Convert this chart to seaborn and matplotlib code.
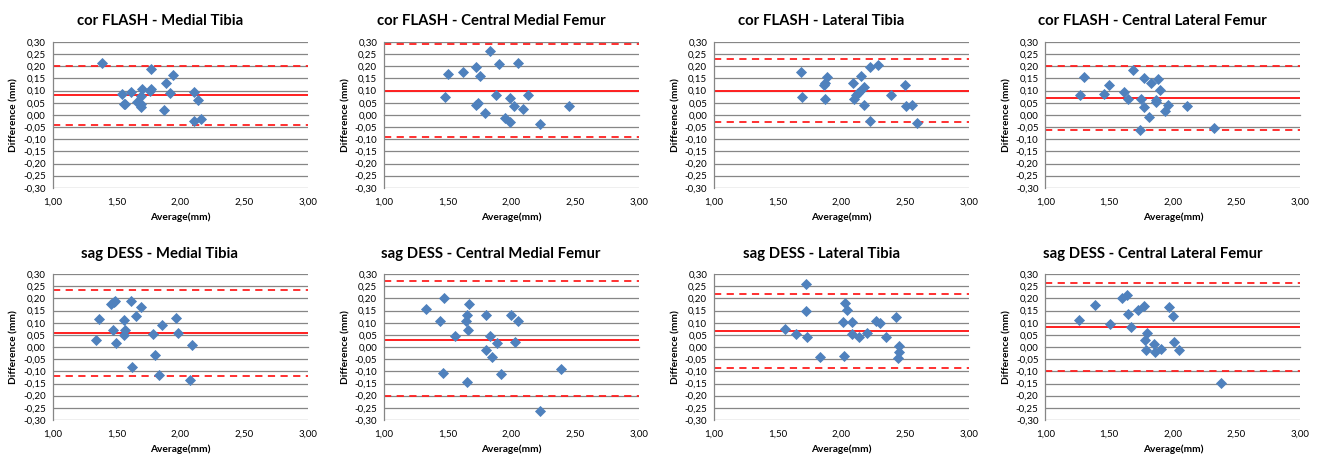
import numpy as np
import pandas as pd
import seaborn as sns
import matplotlib.pyplot as plt
from matplotlib.ticker import FuncFormatter, MultipleLocator

sns.set_style("white")
plt.rcParams['font.family'] = ['Lato', 'DejaVu Sans']
plt.rcParams['text.color'] = 'black'
plt.rcParams['axes.labelcolor'] = 'black'
plt.rcParams['xtick.labelcolor'] = 'black'
plt.rcParams['ytick.labelcolor'] = 'black'

# cor FLASH - Medial Tibia
flash_mt_avg = [1.39, 1.77, 1.94, 1.89, 1.54, 1.61, 1.70, 1.76, 1.77, 1.92, 2.11,
                2.14, 1.69, 1.66, 1.69, 1.56, 1.57, 1.69, 1.87, 2.11, 2.16]
flash_mt_diff = [0.215, 0.190, 0.165, 0.133, 0.085, 0.093, 0.105, 0.098, 0.105, 0.092, 0.093,
                 0.062, 0.078, 0.053, 0.045, 0.043, 0.043, 0.032, 0.021, -0.027, -0.018]
flash_mt_lines = [0.082, 0.200, -0.042]  # mean, upper, lower

# cor FLASH - Central Medial Femur
flash_cmf_avg = [1.48, 1.50, 1.62, 1.72, 1.75, 1.83, 1.90, 2.05, 1.72, 1.74,
                 1.79, 1.88, 1.99, 2.02, 1.95, 1.99, 2.09, 2.13, 2.22, 2.45]
flash_cmf_diff = [0.075, 0.170, 0.175, 0.196, 0.160, 0.265, 0.208, 0.215, 0.040, 0.048,
                  0.006, 0.080, 0.071, 0.037, -0.013, -0.028, 0.025, 0.080, -0.036, 0.037]
flash_cmf_lines = [0.098, 0.292, -0.092]

# cor FLASH - Lateral Tibia
flash_lt_avg = [1.68, 1.69, 1.86, 1.87, 1.87, 1.89, 2.09, 2.10, 2.11, 2.13, 2.14,
                2.15, 2.18, 2.18, 2.22, 2.22, 2.29, 2.39, 2.50, 2.51, 2.55, 2.59]
flash_lt_diff = [0.177, 0.072, 0.122, 0.130, 0.065, 0.158, 0.133, 0.065, 0.080, 0.090, 0.095,
                 0.160, 0.040, 0.115, 0.198, -0.027, 0.207, 0.081, 0.124, 0.036, 0.042, -0.033]
flash_lt_lines = [0.100, 0.230, -0.030]

# cor FLASH - Central Lateral Femur
flash_clf_avg = [1.27, 1.30, 1.46, 1.50, 1.62, 1.65, 1.69, 1.75, 1.77, 1.77, 1.81,
                 1.74, 1.83, 1.87, 1.87, 1.88, 1.90, 1.94, 1.96, 2.11, 2.32]
flash_clf_diff = [0.082, 0.157, 0.087, 0.125, 0.093, 0.066, 0.185, 0.067, 0.152, 0.033, -0.008,
                  -0.062, 0.130, 0.060, 0.052, 0.148, 0.103, 0.017, 0.040, 0.037, -0.054]
flash_clf_lines = [0.070, 0.201, -0.061]

# sag DESS - Medial Tibia
dess_mt_avg = [1.34, 1.36, 1.46, 1.48, 1.49, 1.47, 1.50, 1.56, 1.56, 1.57, 1.61,
               1.62, 1.65, 1.69, 1.79, 1.80, 1.83, 1.86, 1.97, 1.98, 2.08, 2.09]
dess_mt_diff = [0.030, 0.117, 0.177, 0.185, 0.190, 0.072, 0.018, 0.050, 0.112, 0.072, 0.188,
                -0.080, 0.126, 0.164, 0.052, -0.032, -0.115, 0.092, 0.118, 0.060, -0.135, 0.010]
dess_mt_lines = [0.057, 0.237, -0.120]

# sag DESS - Central Medial Femur
dess_cmf_avg = [1.33, 1.44, 1.47, 1.46, 1.56, 1.65, 1.64, 1.66, 1.67, 1.65, 1.80,
                1.80, 1.83, 1.85, 1.89, 1.92, 2.00, 2.03, 2.05, 2.22, 2.39]
dess_cmf_diff = [0.157, 0.108, 0.200, -0.105, 0.045, 0.133, 0.107, 0.070, 0.177, -0.145, 0.132,
                 -0.012, 0.046, -0.040, 0.018, -0.110, 0.133, 0.022, 0.107, -0.263, -0.090]
dess_cmf_lines = [0.030, 0.270, -0.200]

# sag DESS - Lateral Tibia
dess_lt_avg = [1.56, 1.64, 1.72, 1.72, 1.73, 1.83, 2.01, 2.03, 2.04, 2.02, 2.08,
               2.08, 2.14, 2.20, 2.27, 2.30, 2.35, 2.43, 2.45, 2.45, 2.44]
dess_lt_diff = [0.073, 0.053, 0.260, 0.148, 0.043, -0.040, 0.105, 0.180, 0.153, -0.038, 0.104,
                0.055, 0.043, 0.057, 0.108, 0.100, 0.040, 0.122, 0.005, -0.022, -0.043]
dess_lt_lines = [0.068, 0.218, -0.086]

# sag DESS - Central Lateral Femur
dess_clf_avg = [1.26, 1.39, 1.51, 1.60, 1.64, 1.65, 1.67, 1.73, 1.77, 1.78,
                1.79, 1.80, 1.85, 1.86, 1.91, 1.97, 2.00, 2.01, 2.05, 2.38]
dess_clf_diff = [0.113, 0.173, 0.097, 0.202, 0.215, 0.135, 0.082, 0.153, 0.170, 0.028,
                 -0.010, 0.056, 0.012, -0.020, -0.008, 0.163, 0.130, 0.020, -0.010, -0.147]
dess_clf_lines = [0.082, 0.265, -0.100]

titles = ["cor FLASH - Medial Tibia", "cor FLASH - Central Medial Femur",
          "cor FLASH - Lateral Tibia", "cor FLASH - Central Lateral Femur",
          "sag DESS - Medial Tibia", "sag DESS - Central Medial Femur",
          "sag DESS - Lateral Tibia", "sag DESS - Central Lateral Femur"]
avgs = [flash_mt_avg, flash_cmf_avg, flash_lt_avg, flash_clf_avg,
        dess_mt_avg, dess_cmf_avg, dess_lt_avg, dess_clf_avg]
diffs = [flash_mt_diff, flash_cmf_diff, flash_lt_diff, flash_clf_diff,
         dess_mt_diff, dess_cmf_diff, dess_lt_diff, dess_clf_diff]
lines = [flash_mt_lines, flash_cmf_lines, flash_lt_lines, flash_clf_lines,
         dess_mt_lines, dess_cmf_lines, dess_lt_lines, dess_clf_lines]

grey = '#868686'
blue = '#4F81BD'
red = '#FF2020'
comma = FuncFormatter(lambda v, p: f"{v:.2f}".replace('.', ',').replace('-0,00', '0,00'))

W, H = 13.2, 4.57
fig = plt.figure(figsize=(W, H), dpi=100)
lefts = [0.040, 0.291, 0.541, 0.792]
bottoms = [0.589, 0.081]
ax_w, ax_h = 0.193, 0.319

# x axis crosses at 0 (Excel style) but labels sit at the bottom edge
half_h_pt = ax_h * H * 72 / 2
tick_len = 3
x_pad = half_h_pt - tick_len + 7

for i in range(8):
    ax = fig.add_axes([lefts[i % 4], bottoms[i // 4], ax_w, ax_h])
    df = pd.DataFrame({'avg': avgs[i], 'diff': diffs[i]})

    for yv in np.arange(-0.30, 0.301, 0.05):
        if abs(yv) > 1e-9:
            ax.axhline(yv, color=grey, lw=0.9, zorder=0)

    mean, up, lo = lines[i]
    ax.axhline(mean, color=red, lw=1.4, zorder=1)
    ax.axhline(up, color=red, lw=1.3, ls=(0, (4, 3)), zorder=1)
    ax.axhline(lo, color=red, lw=1.3, ls=(0, (4, 3)), zorder=1)

    sns.scatterplot(data=df, x='avg', y='diff', ax=ax, marker='D', s=32,
                    color=blue, edgecolor=blue, linewidth=0, zorder=3)

    ax.set_xlim(1.0, 3.0)
    ax.set_ylim(-0.30, 0.30)
    ax.yaxis.set_major_locator(MultipleLocator(0.05))
    ax.xaxis.set_major_locator(MultipleLocator(0.5))
    ax.yaxis.set_major_formatter(comma)
    ax.xaxis.set_major_formatter(comma)

    for s in ['top', 'right']:
        ax.spines[s].set_visible(False)
    ax.spines['left'].set_color(grey)
    ax.spines['left'].set_linewidth(0.9)
    ax.spines['bottom'].set_position(('data', 0))
    ax.spines['bottom'].set_color(grey)
    ax.spines['bottom'].set_linewidth(0.9)
    ax.tick_params(axis='y', direction='out', length=tick_len, width=0.9, color=grey,
                   labelsize=7, pad=2)
    ax.tick_params(axis='x', direction='out', length=tick_len, width=0.9, color=grey,
                   labelsize=7, pad=x_pad)

    ax.set_ylabel('Difference (mm)', fontsize=7.3, fontweight='bold', labelpad=3)
    ax.set_xlabel('Average(mm)', fontsize=7.3, fontweight='bold', labelpad=4)
    ax.set_title(titles[i], fontsize=10.7, fontweight='bold', x=0.42, pad=12)

fig.savefig('out.png', dpi=100, facecolor='white')
